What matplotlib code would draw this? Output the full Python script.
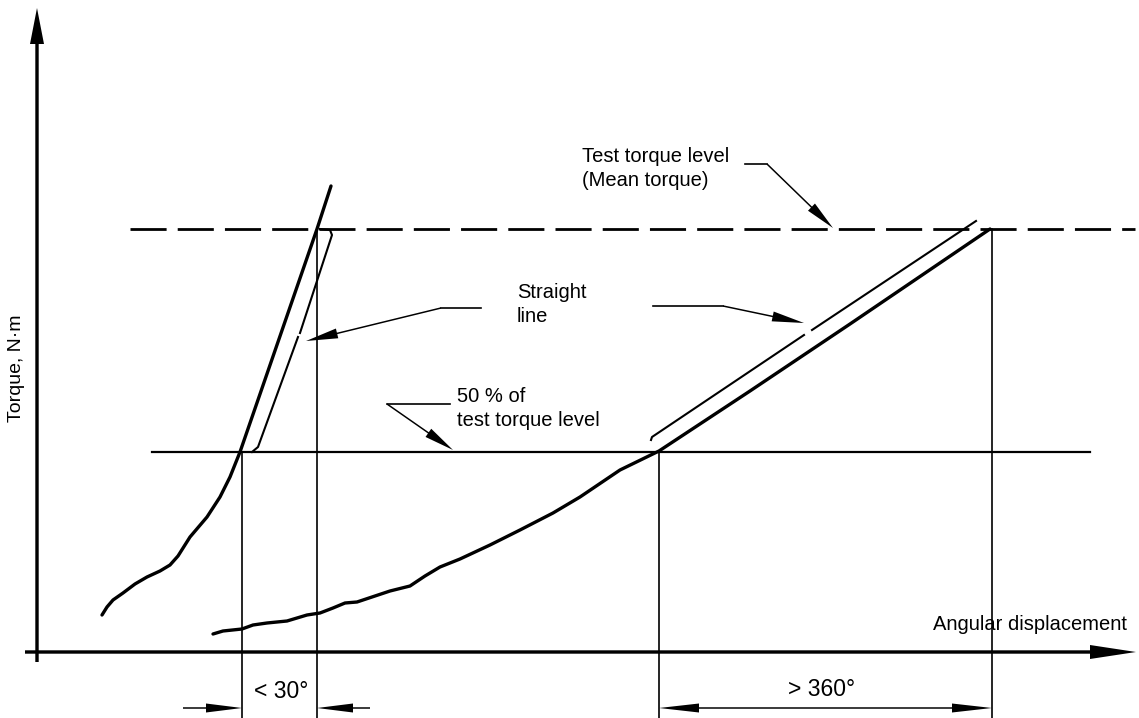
import numpy as np
import matplotlib.pyplot as plt

plt.rcParams['font.family'] = ['Liberation Sans', 'DejaVu Sans']
plt.rcParams['lines.scale_dashes'] = False

# diagram is drawn in picture units (x to the right, y downwards)
left_curve_x = [102, 107, 113, 123, 135, 147, 160, 170, 178, 190, 207, 220, 230, 240, 317, 331]
left_curve_y = [615, 607, 600, 593, 584, 577, 571, 565, 556, 537, 517, 497, 477, 452, 229, 186]

right_curve_x = [213, 223, 242, 253, 267, 287, 307, 320, 333, 345, 357, 372, 390,
                 410, 425, 440, 460, 490, 520, 553, 580, 620, 659, 750, 850, 990]
right_curve_y = [634, 631, 629, 625, 623, 621, 615, 613, 608, 603, 602, 597, 591,
                 586, 576, 567, 559, 545, 530, 513, 497, 470, 451, 391, 324, 229]

# straight-line markers drawn beside each curve
left_straight_x = [252, 258, 298, np.nan, 300, 332, 330, 320]
left_straight_y = [452, 447, 337, np.nan, 333, 235, 230, 229]
right_straight_x = [651, 652, 804, np.nan, 812, 976]
right_straight_y = [440, 437, 335, np.nan, 330, 221]

test_level = 229
half_level = 452
x_half_left, x_test_left = 242, 317
x_half_right, x_test_right = 659, 992
axis_x0, axis_y0 = 37, 652

fig = plt.figure(figsize=(11.39, 7.18), dpi=100)
ax = fig.add_axes([0, 0, 1, 1])
ax.set_xlim(0, 1139)
ax.set_ylim(718, 0)
ax.axis('off')

k = 'black'


def arrow(x0, y0, x1, y1, w, hw, hl):
    ax.arrow(x0, y0, x1 - x0, y1 - y0, width=w, head_width=hw, head_length=hl,
             length_includes_head=True, color=k, lw=0)


# axes with arrows
arrow(axis_x0, 662, axis_x0, 8, 3.4, 14, 36)
arrow(25, axis_y0, 1136, axis_y0, 3.4, 14, 46)

# reference levels
ax.plot([130, 1135], [test_level, test_level], color=k, lw=2.0,
        linestyle=(0, (26, 8)))
ax.plot([152, 1090], [half_level, half_level], color=k, lw=1.6)

# vertical construction lines
for xv, yv in [(x_half_left, half_level), (x_test_left, test_level),
               (x_half_right, half_level), (x_test_right, test_level)]:
    ax.plot([xv, xv], [yv, 718], color=k, lw=1.2)

# curves
ax.plot(left_curve_x, left_curve_y, color=k, lw=2.4, solid_capstyle='round',
        solid_joinstyle='round')
ax.plot(right_curve_x, right_curve_y, color=k, lw=2.4, solid_capstyle='round',
        solid_joinstyle='round')
ax.plot(left_straight_x, left_straight_y, color=k, lw=1.5)
ax.plot(right_straight_x, right_straight_y, color=k, lw=1.5)

# leaders
ax.plot([745, 767], [164, 164], color=k, lw=1.2)
arrow(767, 164, 833, 228, 1.5, 10, 30)
ax.plot([441, 481], [308, 308], color=k, lw=1.2)
arrow(441, 308, 306, 341, 1.5, 10, 32)
ax.plot([653, 723], [306, 306], color=k, lw=1.2)
arrow(723, 306, 804, 323, 1.5, 10, 32)
ax.plot([387, 450], [404, 404], color=k, lw=1.2)
arrow(387, 404, 453, 450, 1.5, 10, 30)

# dimension arrows
arrow(183, 708, x_half_left, 708, 1.5, 9, 36)
arrow(370, 708, x_test_left, 708, 1.5, 9, 36)
arrow(826, 708, x_half_right, 708, 1.5, 9, 40)
arrow(826, 708, x_test_right, 708, 1.5, 9, 40)

# text
fs = 14.5
ax.text(582, 157, 'Test torque level', fontsize=fs, va='center', ha='left')
ax.text(582, 181, '(Mean torque)', fontsize=fs, va='center', ha='left')
ax.text(517, 293, 'Straight', fontsize=fs, va='center', ha='left')
ax.text(517, 317, 'line', fontsize=fs, va='center', ha='left')
ax.text(457, 397, '50 % of', fontsize=fs, va='center', ha='left')
ax.text(457, 421, 'test torque level', fontsize=fs, va='center', ha='left')
ax.text(933, 624, 'Angular displacement', fontsize=fs, va='center', ha='left')
ax.text(281, 691, '< 30°', fontsize=16.5, va='center', ha='center')
ax.text(822, 689, '> 360°', fontsize=16.5, va='center', ha='center')
ax.text(17, 368, 'Torque, N·m', fontsize=14, va='center', ha='center',
        rotation=90)

fig.savefig('out.png', dpi=100)
